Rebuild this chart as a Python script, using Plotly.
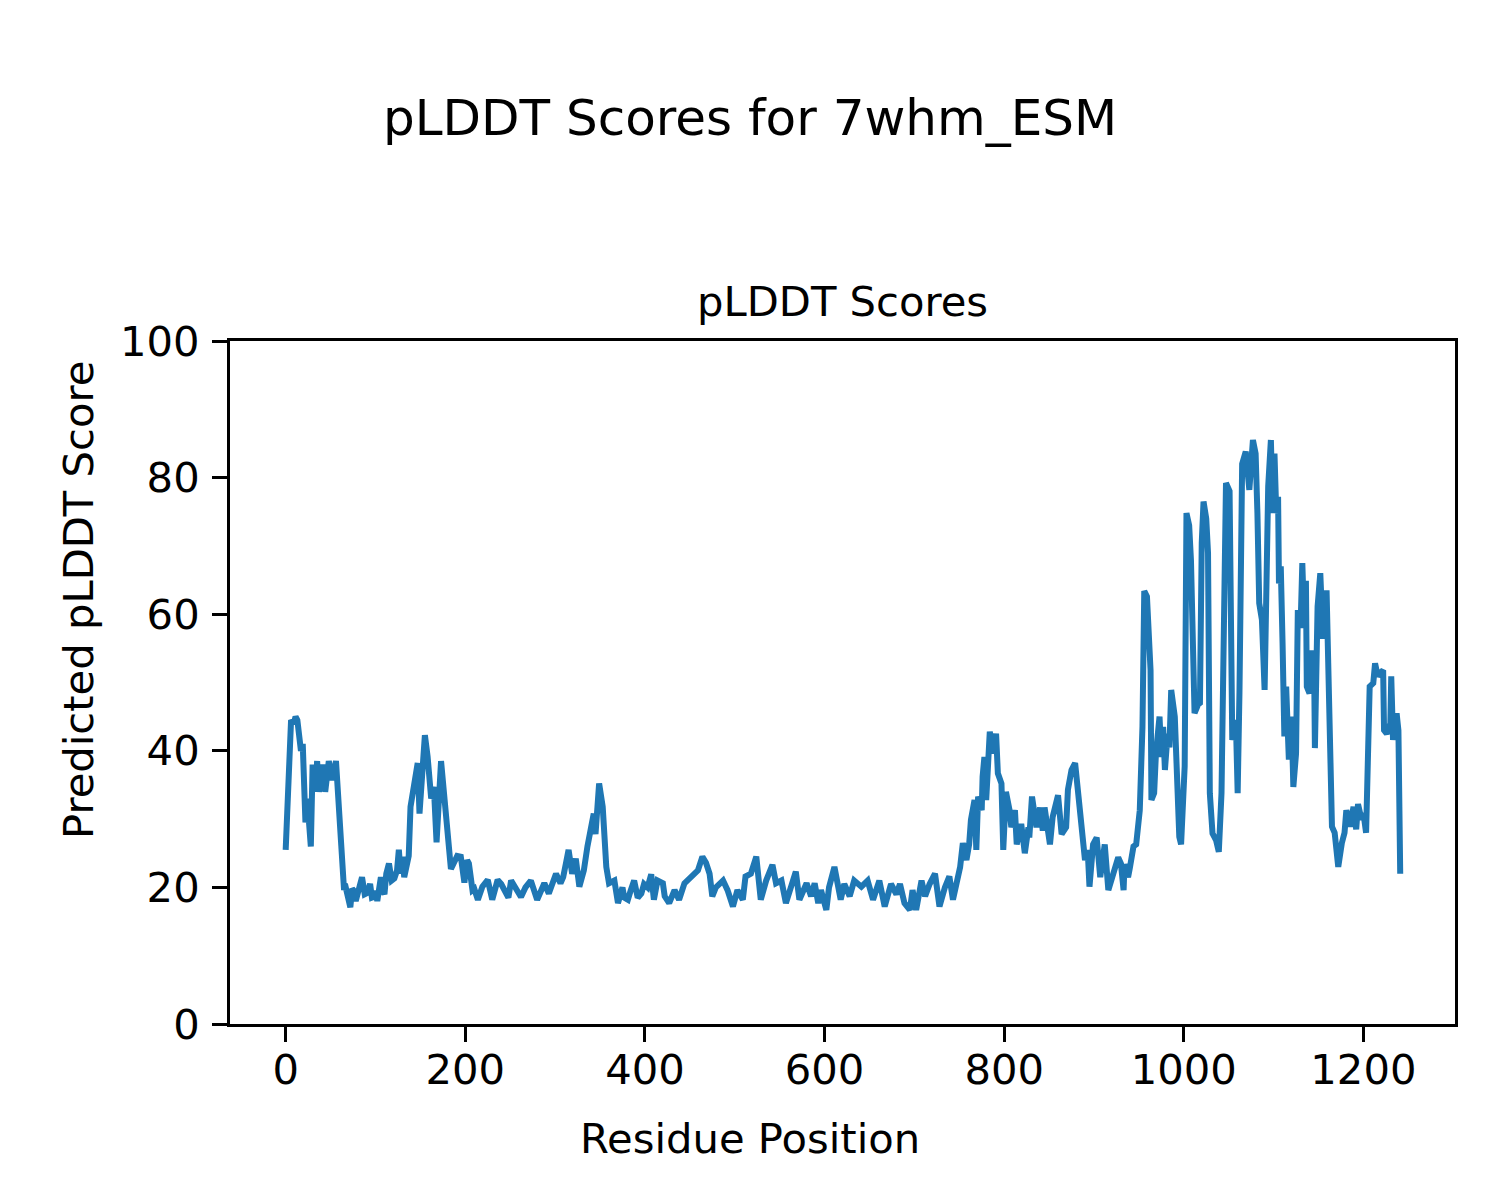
import plotly.graph_objects as go

# Residue positions and predicted pLDDT scores
residues = [
    0, 2, 4, 6, 9, 11, 13, 15, 17, 19, 20, 22, 24, 26, 28, 30, 33, 35, 37, 41,
    44, 48, 52, 56, 58, 61, 63, 65, 66, 68, 70, 72, 74, 76, 78, 80, 82, 85, 88, 91,
    94, 96, 98, 100, 102, 104, 106, 108, 110, 112, 115, 118, 121, 124, 126, 128, 130, 132, 134, 137,
    139, 143, 147, 149, 152, 155, 158, 162, 165, 168, 173, 176, 180, 184, 191, 195, 199, 202, 204, 208,
    210, 214, 219, 225, 230, 236, 240, 245, 248, 251, 256, 262, 267, 273, 280, 284, 288, 293, 297, 301,
    306, 309, 312, 315, 319, 323, 327, 332, 336, 340, 343, 345, 349, 353, 355, 357, 360, 366, 370, 375,
    377, 381, 384, 388, 392, 396, 399, 403, 407, 410, 414, 420, 422, 427, 433, 438, 444, 449, 453, 459,
    464, 468, 472, 475, 479, 487, 492, 498, 503, 509, 512, 518, 524, 527, 529, 535, 542, 546, 552, 557,
    563, 568, 572, 580, 585, 589, 593, 596, 602, 605, 611, 615, 618, 622, 628, 633, 641, 648, 654, 661,
    667, 674, 680, 684, 689, 695, 698, 702, 708, 712, 717, 723, 728, 734, 739, 743, 747, 751, 754, 758,
    761, 763, 767, 769, 771, 775, 776, 778, 780, 782, 784, 788, 791, 793, 797, 799, 802, 806, 808, 812,
    814, 819, 823, 827, 828, 831, 836, 840, 843, 845, 851, 854, 860, 864, 869, 871, 875, 879, 882, 886,
    890, 893, 895, 899, 903, 907, 912, 916, 921, 927, 930, 933, 934, 938, 940, 944, 947, 951, 954, 956,
    959, 963, 964, 967, 969, 973, 975, 977, 979, 982, 984, 986, 990, 992, 995, 997, 1001, 1003, 1006, 1008,
    1010, 1012, 1016, 1018, 1020, 1022, 1025, 1027, 1029, 1032, 1036, 1039, 1042, 1047, 1051, 1054, 1058, 1060, 1062, 1065,
    1069, 1073, 1077, 1080, 1082, 1084, 1087, 1090, 1094, 1097, 1099, 1101, 1103, 1105, 1106, 1108, 1110, 1112, 1114, 1117,
    1120, 1122, 1125, 1127, 1130, 1132, 1134, 1136, 1137, 1140, 1143, 1145, 1146, 1149, 1152, 1155, 1159, 1161, 1162, 1165,
    1168, 1170, 1172, 1176, 1179, 1181, 1185, 1189, 1192, 1194, 1198, 1200, 1203, 1207, 1211, 1213, 1216, 1218, 1222, 1223,
    1226, 1230, 1231, 1233, 1237, 1239, 1241,
]

scores = [
    25.5, 34, 42, 44.5, 44, 45, 44.5, 41, 40, 41, 33, 29.5, 33, 30, 26, 38, 34, 38.5, 34, 38,
    34, 38.5, 35.7, 38.5, 34.7, 28.4, 23, 19.6, 20.5, 19, 18, 17.1, 19.8, 19.5, 18, 19.2, 20.5, 21.5, 19, 19.2,
    20.5, 18.5, 18.6, 19.5, 18, 21, 21.5, 19.5, 19, 22, 23.5, 21, 21.3, 22.5, 25.5, 22, 24.5, 21.5, 23, 24.6,
    31.8, 34.7, 38.2, 30.8, 37.2, 42.3, 39.2, 33, 34.7, 26.6, 38.5, 34.2, 27, 22.7, 24.6, 24.5, 20.7, 24, 23.5, 19.6,
    19.8, 18.2, 20.1, 21.1, 18.2, 21.1, 20.5, 19.1, 18.5, 21, 20, 18.6, 20, 21, 18.2, 19.5, 20.6, 19.1, 20.5, 22,
    20.6, 21.5, 23.5, 25.5, 22, 24.2, 20.1, 22.5, 26, 29.4, 30.8, 27.8, 35.2, 31.8, 28, 23, 20.6, 21, 17.7, 20,
    18.5, 18.2, 19.5, 21, 18.5, 19.1, 20.5, 20, 21.9, 18.2, 21, 20.6, 18.7, 17.7, 19.6, 18.2, 20.6, 21.3, 21.8, 22.5,
    24.5, 23.6, 22, 18.7, 20, 21, 19.6, 17.2, 19.6, 18.2, 21.6, 22, 24.5, 20, 18.2, 21, 23.3, 20.6, 21, 17.7,
    20.6, 22.3, 18.2, 20.6, 18.7, 20.6, 17.7, 19.6, 16.7, 20, 23, 19.6, 18.2, 20.5, 18.7, 21, 20.1, 21, 18.2, 21,
    17.2, 20.5, 19, 20.5, 17.7, 16.7, 19.6, 16.7, 21, 18.7, 20.5, 22, 17.2, 20, 21.6, 18.2, 20.5, 23, 26.5, 24,
    26.3, 29.9, 32.8, 25.5, 33.3, 31.3, 36.2, 39.1, 32.8, 38.1, 42.8, 39.6, 42.5, 36.7, 35.2, 25.5, 34, 31.3, 28.8, 31.3,
    26.3, 29.3, 25, 28.8, 27.3, 33.3, 28.8, 31.7, 28.3, 31.7, 26.3, 30.3, 33.5, 27.8, 28.8, 34.3, 37.2, 38.2, 33.8, 29.3,
    24, 25.5, 20.1, 26.3, 27.3, 21.5, 26.3, 19.6, 21.5, 24.4, 23.5, 19.6, 23.4, 21.5, 22.9, 26, 26.3, 31.3, 43.5, 63.4,
    62.6, 51.8, 32.8, 33.8, 39.6, 45, 39.1, 43.5, 37.2, 42.5, 40.5, 48.9, 45, 37.7, 27.4, 26.3, 37.7, 74.8, 73, 67.9,
    59.2, 45.5, 46.8, 47, 70.4, 76.5, 74, 69, 33.8, 27.9, 26.9, 25.2, 33.8, 79.2, 78, 41.6, 44.5, 33.8, 48.5, 82,
    83.8, 78.2, 85.5, 83.5, 74.8, 61.6, 59.2, 48.9, 78.7, 85.5, 74.8, 83.5, 74.8, 77.2, 64.5, 67, 55.7, 42.1, 49.4, 38.7,
    45, 34.7, 39.6, 60.6, 58, 67.5, 59, 64.9, 49.4, 48.4, 54.3, 54.3, 40.4, 61.1, 66, 56.4, 63.5, 52.3, 54.3, 28.9,
    28, 25, 23, 26.5, 28, 31.3, 28.9, 31.8, 28.5, 32.2, 29.9, 30.9, 28, 49.4, 49.9, 52.8, 50.9, 51.3, 51.8, 43,
    42.5, 44, 50.9, 41.6, 45.5, 43, 22,
]

x_ticks = [0, 200, 400, 600, 800, 1000, 1200]
y_ticks = [0, 20, 40, 60, 80, 100]

FONT = "DejaVu Sans"

# target plot area in page pixels (the page body adds an 8px offset)
OFF = 8
L, R, T, B = 230, 1455, 341, 1024
PW, PH = R - L, B - T

fig = go.Figure()
fig.add_trace(go.Scatter(
    x=residues, y=scores, mode="lines",
    line=dict(color="#1f77b4", width=6),
    showlegend=False,
))

axis_common = dict(
    showline=True, linecolor="black", linewidth=3, mirror=True,
    ticks="outside", ticklen=15, tickwidth=3, tickcolor="black",
    showgrid=False, zeroline=False,
    tickfont=dict(family=FONT, size=41.7, color="black"),
)

fig.update_layout(
    width=1500, height=1200, autosize=False,
    paper_bgcolor="white", plot_bgcolor="white",
    margin=dict(l=L - OFF, r=1500 - R + OFF, t=T - OFF, b=1200 - B + OFF),
    xaxis=dict(range=[-62, 1302], tickmode="array", tickvals=x_ticks,
               ticktext=[str(v) for v in x_ticks], ticklabelstandoff=-8, **axis_common),
    yaxis=dict(range=[0, 100], tickmode="array", tickvals=y_ticks,
               ticktext=[str(v) for v in y_ticks], ticklabelstandoff=4, **axis_common),
    annotations=[
        dict(text="pLDDT Scores for 7whm_ESM", xref="paper", yref="paper",
             x=(750 - L) / PW, y=1 + (T - 118) / PH,
             xanchor="center", yanchor="middle", showarrow=False,
             font=dict(family=FONT, size=50, color="black")),
        dict(text="pLDDT Scores", xref="paper", yref="paper",
             x=0.5, y=1 + (T - 302) / PH,
             xanchor="center", yanchor="middle", showarrow=False,
             font=dict(family=FONT, size=41.7, color="black")),
        dict(text="Residue Position", xref="paper", yref="paper",
             x=(750 - L) / PW, y=-(1138 - B) / PH,
             xanchor="center", yanchor="middle", showarrow=False,
             font=dict(family=FONT, size=41.7, color="black")),
        dict(text="Predicted pLDDT Score", xref="paper", yref="paper",
             x=-(L - 78) / PW, y=(B - 600) / PH, textangle=-90,
             xanchor="center", yanchor="middle", showarrow=False,
             font=dict(family=FONT, size=41.7, color="black")),
    ],
)

fig.write_html("out.html")
